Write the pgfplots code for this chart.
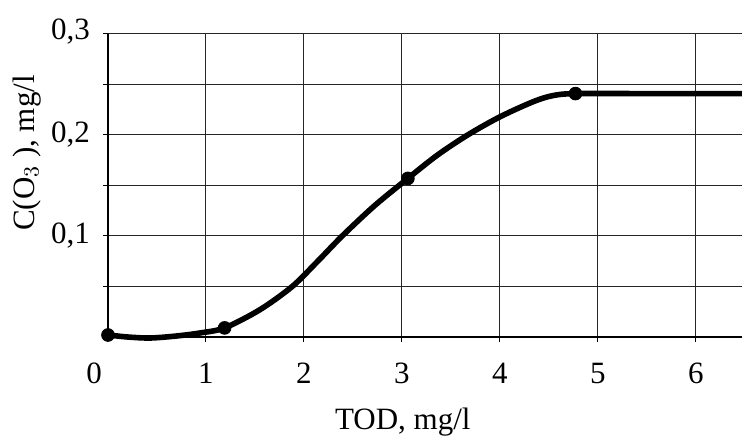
\documentclass[border=0pt]{standalone}
\usepackage{fontspec}
\setmainfont{Liberation Serif}
\usepackage{pgfplots}
\pgfplotsset{compat=1.18}

\begin{document}
\begin{tikzpicture}
\path[use as bounding box] (-54pt,-50pt) rectangle (317pt,168.5pt);
\begin{axis}[
  scale only axis, width=317pt, height=151.5pt,
  xmin=0, xmax=6.47, ymin=0, ymax=0.3,
  axis lines*=left,
  axis line style={line width=0.7pt},
  clip=false,
  xtick={0,1,2,3,4,5,6},
  xticklabels={\makebox[0pt][r]{0\hspace{3pt}},1,2,3,4,5,6},
  ytick={0,0.05,0.1,0.15,0.2,0.25,0.3},
  yticklabels={,,{0,1},,{0,2},,{\raisebox{5pt}{0,3}}},
  grid=major,
  grid style={black!85, line width=0.5pt},
  tick align=outside,
  major tick length=2.5pt,
  tick style={black, line width=0.5pt},
  tick label style={font=\fontsize{15.5}{17}\selectfont},
  xticklabel style={yshift=-7pt},
  yticklabel style={xshift=-3pt},
  label style={font=\fontsize{15.5}{17}\selectfont},
  xlabel={TOD, mg/l},
  xlabel style={at={(axis description cs:0.465,-0.28)}, anchor=center},
  ylabel={C(O$_3$ ), mg/l},
  ylabel style={at={(axis description cs:-0.128,0.607)}, anchor=center},
]
\addplot[black, line width=2.8pt, smooth, tension=0.5] coordinates {
  (0,0.002) (0.2,0.000) (0.43,-0.001) (0.7,0.001) (0.94,0.004)
  (1.19,0.009) (1.55,0.027) (1.88,0.050) (2.14,0.075) (2.39,0.100)
  (2.72,0.130) (3.06,0.157) (3.36,0.180) (3.67,0.200) (4.00,0.218)
  (4.34,0.233) (4.54,0.239) (4.77,0.241) (5.5,0.241) (6.47,0.241)
};
\addplot[only marks, mark=*, mark size=3.2pt, black] coordinates {
  (0,0.002) (1.19,0.009) (3.06,0.157) (4.77,0.241)
};
\end{axis}
\end{tikzpicture}
\end{document}
